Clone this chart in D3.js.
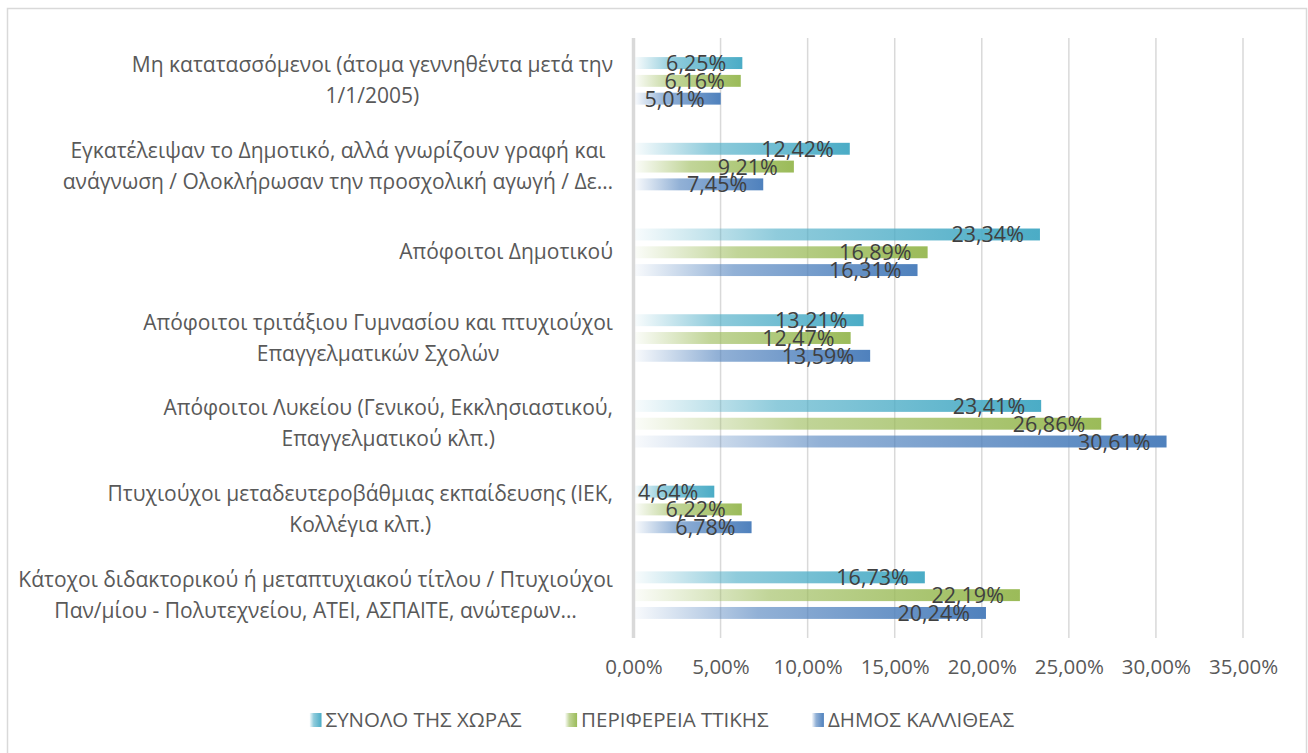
<!DOCTYPE html>
<html lang="el">
<head>
<meta charset="UTF-8"/>
<title>Εκπαίδευση</title>
<script src="https://cdn.jsdelivr.net/npm/d3@7"></script>
<style>
body { margin: 0; background: #fff; }
text { font-family: "Open Sans", sans-serif; }
</style>
</head>
<body>
<svg id="viz"></svg>
<script>
var width = 1308, height = 753;

// categories (each an array of lines, as wrapped in the original)
var categories = [
  ["Μη κατατασσόμενοι (άτομα γεννηθέντα μετά την", "1/1/2005)"],
  ["Εγκατέλειψαν το Δημοτικό, αλλά γνωρίζουν γραφή και", "ανάγνωση / Ολοκλήρωσαν την προσχολική αγωγή / Δε…"],
  ["Απόφοιτοι Δημοτικού"],
  ["Απόφοιτοι τριτάξιου Γυμνασίου και πτυχιούχοι", "Επαγγελματικών Σχολών"],
  ["Απόφοιτοι Λυκείου (Γενικού, Εκκλησιαστικού,", "Επαγγελματικού κλπ.)"],
  ["Πτυχιούχοι μεταδευτεροβάθμιας εκπαίδευσης (ΙΕΚ,", "Κολλέγια κλπ.)"],
  ["Κάτοχοι διδακτορικού ή μεταπτυχιακού τίτλου / Πτυχιούχοι", "Παν/μίου - Πολυτεχνείου, ΑΤΕΙ, ΑΣΠΑΙΤΕ, ανώτερων…"]
];
var seriesNames = ["ΣΥΝΟΛΟ ΤΗΣ ΧΩΡΑΣ", "ΠΕΡΙΦΕΡΕΙΑ ΤΤΙΚΗΣ", "ΔΗΜΟΣ ΚΑΛΛΙΘΕΑΣ"];
var synolo    = [6.25, 12.42, 23.34, 13.21, 23.41, 4.64, 16.73];
var perifereia = [6.16, 9.21, 16.89, 12.47, 26.86, 6.22, 22.19];
var kallithea = [5.01, 7.45, 16.31, 13.59, 30.61, 6.78, 20.24];
var tickValues = [0, 5, 10, 15, 20, 25, 30, 35];
var colors = ["#4bacc6", "#9bbb59", "#4f81bd"];

var seriesValues = [synolo, perifereia, kallithea];

var svg = d3.select("#viz").attr("width", width).attr("height", height);

// outer chart border
svg.append("rect")
  .attr("x", 7.5).attr("y", 8.5)
  .attr("width", 1299).attr("height", 760)
  .attr("fill", "#fff").attr("stroke", "#d9d9d9").attr("stroke-width", 1.5);

// gradients, light at the left edge of each bar
var defs = svg.append("defs");
colors.forEach(function(c, i) {
  var g = defs.append("linearGradient").attr("id", "grad" + i)
    .attr("x1", "0%").attr("x2", "100%").attr("y1", "0%").attr("y2", "0%");
  g.append("stop").attr("offset", "0%").attr("stop-color", c).attr("stop-opacity", 0.04);
  g.append("stop").attr("offset", "35%").attr("stop-color", c).attr("stop-opacity", 0.62);
  g.append("stop").attr("offset", "100%").attr("stop-color", c).attr("stop-opacity", 1);
});

var x = d3.scaleLinear().domain([0, 35]).range([633.5, 1243]);
var y0 = d3.scaleBand().domain(d3.range(categories.length)).range([38, 638]);
var half = 26.7;
var y1 = d3.scaleBand().domain(d3.range(seriesNames.length))
  .range([y0.bandwidth() / 2 - half, y0.bandwidth() / 2 + half])
  .paddingInner(0.33).paddingOuter(0.165);

// gridlines
svg.append("g").selectAll("line")
  .data(tickValues.slice(1))
  .enter().append("line")
  .attr("x1", d => x(d)).attr("x2", d => x(d))
  .attr("y1", 38).attr("y2", 638)
  .attr("stroke", "#d9d9d9").attr("stroke-width", 1.5);

// x axis tick labels
var xAxis = d3.axisBottom(x).tickValues(tickValues)
  .tickFormat(d => d3.format(".2f")(d).replace(".", ",") + "%")
  .tickSize(0).tickPadding(0);
var axG = svg.append("g").attr("transform", "translate(0,659)").call(xAxis);
axG.select(".domain").remove();
axG.selectAll("text")
  .attr("dy", "0.71em").attr("y", 0)
  .attr("fill", "#595959")
  .style("font-size", "20.5px")
  .style("font-family", "'Open Sans', sans-serif");

// bars
var groups = svg.append("g").selectAll("g")
  .data(categories)
  .enter().append("g")
  .attr("transform", (d, i) => "translate(0," + y0(i) + ")");

groups.selectAll("rect")
  .data((d, i) => seriesValues.map((s, j) => ({ s: j, v: s[i] })))
  .enter().append("rect")
  .attr("x", x(0) + 1.5)
  .attr("y", d => y1(d.s))
  .attr("width", d => x(d.v) - x(0) - 1.5)
  .attr("height", y1.bandwidth())
  .attr("fill", d => "url(#grad" + d.s + ")");

// value labels, inside end
groups.selectAll("text.val")
  .data((d, i) => seriesValues.map((s, j) => ({ s: j, v: s[i] })))
  .enter().append("text")
  .attr("class", "val")
  .attr("x", d => x(d.v) - 16)
  .attr("y", d => y1(d.s) + y1.bandwidth() / 2 + 8)
  .attr("text-anchor", "end")
  .attr("fill", "#404040")
  .style("font-size", "21.5px")
  .text(d => d3.format(".2f")(d.v).replace(".", ",") + "%");

// left axis line
svg.append("line")
  .attr("x1", x(0)).attr("x2", x(0)).attr("y1", 38).attr("y2", 638)
  .attr("stroke", "#d9d9d9").attr("stroke-width", 3.5);

// category labels: block right aligned, lines centred within block
var labelRight = 613, lineH = 31;
categories.forEach(function(lines, i) {
  var cy = y0(i) + y0.bandwidth() / 2;
  var g = svg.append("g");
  var ts = g.selectAll("text").data(lines).enter().append("text")
    .attr("y", (d, k) => cy + (k - (lines.length - 1) / 2) * lineH + 7)
    .attr("text-anchor", "middle")
    .attr("fill", "#595959")
    .style("font-size", "21px")
    .text(d => d);
  var maxW = d3.max(ts.nodes(), n => n.getComputedTextLength());
  ts.attr("x", labelRight - maxW / 2);
});

// legend
var leg = svg.append("g").attr("transform", "translate(0,727)");
var items = leg.selectAll("g").data(seriesNames).enter().append("g");
items.append("rect")
  .attr("x", 0).attr("y", -14).attr("width", 12).attr("height", 14)
  .attr("fill", (d, i) => "url(#grad" + i + ")");
items.append("text")
  .attr("x", 16).attr("y", 0)
  .attr("fill", "#595959")
  .style("font-size", "20.5px")
  .text(d => d);
var pos = 0, offsets = [];
items.each(function() {
  offsets.push(pos);
  pos += this.getBBox().width + 43;
});
var total = pos - 43, start = 662 - total / 2;
items.attr("transform", (d, i) => "translate(" + (start + offsets[i]) + ",0)");
</script>
</body>
</html>
